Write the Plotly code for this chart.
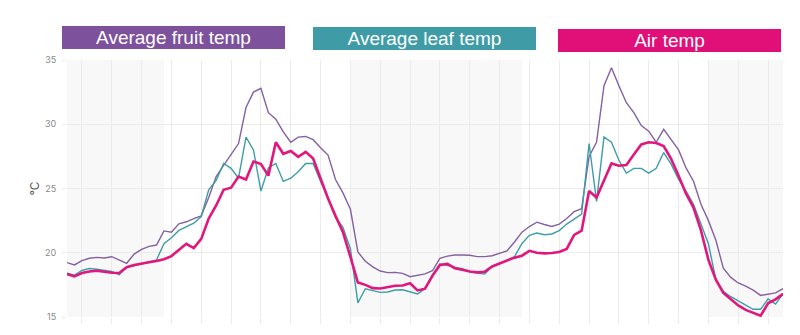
import plotly.graph_objects as go

# Time axis: hours, sampled every half hour
hours = [h / 2 for h in range(-2, 95)]  # -1.0 ... 47.0

fruit_temp = [
    19.23, 19.05, 19.39, 19.57, 19.64, 19.59, 19.69, 19.44, 19.18, 19.90,   # -1 .. 3.5
    20.26, 20.50, 20.60, 21.70, 21.60, 22.25, 22.41, 22.66, 22.87, 24.30,   # 4 .. 8.5
    25.93, 26.80, 27.70, 28.50, 31.30, 32.50, 32.80, 30.90, 30.40, 29.40,   # 9 .. 13.5
    28.60, 29.00, 29.05, 28.80, 28.18, 27.60, 25.70, 24.66, 23.38, 20.06,   # 14 .. 18.5
    19.34, 18.90, 18.58, 18.45, 18.47, 18.40, 18.14, 18.27, 18.35, 18.60,   # 19 .. 23.5
    19.57, 19.74, 19.82, 19.82, 19.80, 19.70, 19.70, 19.77, 19.95, 20.15,   # 24 .. 28.5
    20.84, 21.60, 22.04, 22.38, 22.20, 22.05, 22.23, 22.66, 23.20, 23.43,   # 29 .. 33.5
    27.50, 28.60, 33.00, 34.40, 33.00, 31.68, 30.90, 29.90, 29.46, 28.60,   # 34 .. 38.5
    29.60, 28.80, 28.00, 26.60, 25.57, 23.78, 22.50, 20.97, 18.80, 18.08,   # 39 .. 43.5
    17.65, 17.40, 17.09, 16.68, 16.76, 16.88, 17.20,                        # 44 .. 47
]

leaf_temp = [
    18.42, 18.26, 18.62, 18.77, 18.72, 18.62, 18.54, 18.30, 18.88, 18.98,
    19.13, 19.30, 19.44, 20.70, 21.17, 21.74, 22.00, 22.30, 22.82, 24.90,
    25.63, 26.95, 26.57, 25.80, 29.00, 28.00, 24.80, 26.60, 26.95, 25.55,
    25.80, 26.30, 26.95, 26.95, 25.55, 24.27, 22.74, 21.97, 20.31, 16.10,
    17.20, 17.04, 16.92, 16.95, 17.10, 17.12, 16.95, 16.80, 17.20, 18.29,
    19.13, 18.98, 18.88, 18.77, 18.54, 18.42, 18.34, 18.93, 19.18, 19.49,
    19.69, 20.72, 21.35, 21.53, 21.40, 21.46, 21.72, 22.23, 22.60, 23.00,
    28.50, 24.00, 29.00, 28.60, 27.20, 26.20, 26.57, 26.57, 26.20, 26.57,
    27.80, 26.90, 25.70, 24.80, 23.78, 22.25, 20.70, 17.90, 17.00, 16.58,
    16.25, 15.90, 15.60, 15.60, 16.40, 16.00, 16.80,
]

air_temp = [
    18.34, 18.16, 18.42, 18.54, 18.60, 18.52, 18.44, 18.42, 18.88, 19.05,
    19.18, 19.26, 19.36, 19.49, 19.74, 20.20, 20.70, 20.36, 21.08, 22.66,
    23.68, 24.90, 25.06, 25.93, 25.70, 27.10, 26.90, 26.00, 28.60, 27.70,
    27.92, 27.46, 27.85, 27.34, 25.80, 24.22, 22.87, 21.60, 19.67, 17.68,
    17.50, 17.25, 17.22, 17.33, 17.43, 17.45, 17.63, 17.07, 17.20, 18.20,
    19.05, 19.13, 18.80, 18.67, 18.54, 18.47, 18.52, 18.93, 19.18, 19.39,
    19.62, 19.77, 20.15, 20.00, 19.95, 19.98, 20.06, 20.30, 21.39, 21.72,
    24.80, 24.30, 25.70, 26.95, 26.77, 26.83, 27.64, 28.43, 28.60, 28.54,
    28.30, 27.30, 26.00, 24.60, 23.52, 21.74, 19.44, 17.90, 16.88, 16.37,
    15.90, 15.55, 15.30, 15.10, 16.07, 16.37, 16.80,
]

# Night periods (hours) shaded in light grey
night_start = [-1, 18, 42]
night_end = [5.5, 29.5, 47]

series_names = ["Average fruit temp", "Average leaf temp", "Air temp"]
line_colors = ["#8461A3", "#3E9EA7", "#E2177D"]
box_colors = ["#7E519C", "#3F9CA6", "#E10F78"]
line_widths = [1.4, 1.4, 2.6]

assert len(hours) == len(fruit_temp) == len(leaf_temp) == len(air_temp)

fig = go.Figure()
for name, ys, col, w in zip(series_names, [fruit_temp, leaf_temp, air_temp], line_colors, line_widths):
    fig.add_trace(go.Scatter(x=hours, y=ys, mode="lines", name=name,
                             line=dict(color=col, width=w, shape="linear"),
                             showlegend=False))

for s, e in zip(night_start, night_end):
    fig.add_shape(type="rect", xref="x", yref="y domain", x0=s, x1=e, y0=0, y1=1,
                  fillcolor="#f8f8f8", line=dict(width=0), layer="below")

# Legend boxes as annotations
box_pos = [(0.14874, 1.0862), (0.4993, 1.0824), (0.8415, 1.0747)]
for name, col, (bx, by) in zip(series_names, box_colors, box_pos):
    fig.add_annotation(xref="paper", yref="paper", x=bx, y=by, xanchor="center", yanchor="middle",
                       text=name, showarrow=False, width=223, height=23, bgcolor=col,
                       borderpad=0, borderwidth=0,
                       font=dict(family="Liberation Sans, Arial, sans-serif", size=19, color="white"))

fig.add_annotation(xref="paper", yref="paper", x=-0.0447, y=0.5, xanchor="center", yanchor="middle",
                   text="°C", textangle=-90, showarrow=False,
                   font=dict(family="Inter, sans-serif", size=12, color="#555555"))

fig.update_layout(
    width=800, height=335,
    margin=dict(l=67, r=17, t=60, b=14, pad=0),
    plot_bgcolor="white", paper_bgcolor="white",
    xaxis=dict(range=[-1, 47], tick0=0, dtick=2, showgrid=True, gridcolor="#ebebeb", gridwidth=1,
               ticks="outside", ticklen=6, tickcolor="#ebebeb", showticklabels=False,
               zeroline=False, showline=False),
    yaxis=dict(range=[15, 35], tick0=15, dtick=5, showgrid=True, gridcolor="#ebebeb", gridwidth=1,
               ticks="outside", ticklen=4, tickcolor="#ebebeb", zeroline=False, showline=False,
               tickfont=dict(family="Inter, sans-serif", size=9, color="#8a8a8a"),
               ticklabelstandoff=4),
)

fig.write_html("out.html")
